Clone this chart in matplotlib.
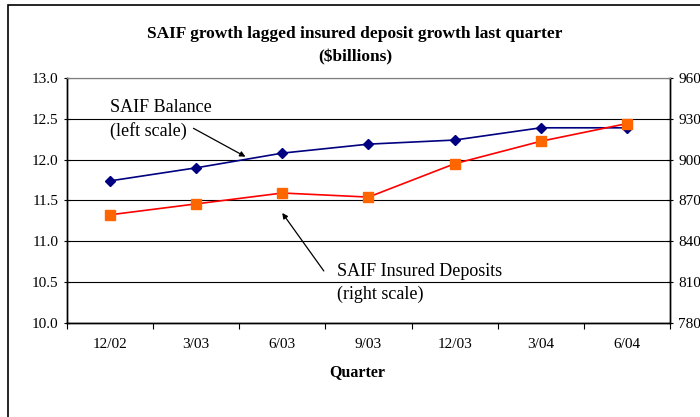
import matplotlib.pyplot as plt
from matplotlib.patches import Rectangle

plt.rcParams['font.family'] = ['Liberation Serif', 'DejaVu Serif']

quarters = ['12/02', '3/03', '6/03', '9/03', '12/03', '3/04', '6/04']
saif_balance = [11.74, 11.90, 12.08, 12.19, 12.24, 12.39, 12.39]       # left scale
insured_deposits = [859.5, 867.5, 875.5, 872.5, 897.0, 913.5, 926.5]   # right scale

left_ticks = [10.0, 10.5, 11.0, 11.5, 12.0, 12.5, 13.0]
right_ticks = [780, 810, 840, 870, 900, 930, 960]

fig = plt.figure(figsize=(7, 4.17), dpi=100)
ax = fig.add_axes([0.0957, 0.2254, 0.8614, 0.5876])
ax2 = ax.twinx()

x = list(range(len(quarters)))

ax.plot(x, saif_balance, color='#000080', lw=1.2, marker='D', ms=5.5,
        markerfacecolor='#000080', markeredgecolor='#000080', zorder=3)
ax2.plot(x, insured_deposits, color='#FF0000', lw=1.2, marker='s', ms=6.5,
         markerfacecolor='#FF6600', markeredgecolor='#FF6600', zorder=3)

ax.set_xlim(-0.5, len(quarters) - 0.5)
ax.set_ylim(10.0, 13.0)
ax2.set_ylim(780, 960)
ax.set_yticks(left_ticks)
ax.set_yticklabels(['%.1f' % v for v in left_ticks])
ax2.set_yticks(right_ticks)
ax2.set_yticklabels([str(v) for v in right_ticks])

# category labels centred, tick marks on the boundaries
ax.set_xticks(x)
ax.set_xticklabels(quarters)
ax.set_xticks([i - 0.5 for i in range(len(quarters) + 1)], minor=True)
ax.tick_params(axis='x', which='major', length=0, pad=11, labelsize=11)
ax.tick_params(axis='x', which='minor', length=4, direction='out', width=0.8)
ax.tick_params(axis='y', length=4, direction='inout', width=0.8, labelsize=11, pad=4)
ax2.tick_params(axis='y', length=4, direction='inout', width=0.8, labelsize=11, pad=4)

ax.yaxis.grid(True, color='black', lw=0.8)
ax.set_axisbelow(True)
for a in (ax, ax2):
    a.spines['top'].set_color('#808080')
    for s in ('left', 'right', 'bottom'):
        a.spines[s].set_linewidth(1.0)

fig.text(357 / 700, 1 - 372 / 417, 'Quarter', ha='center', va='center',
         fontsize=11.5, fontweight='bold')
fig.text(355 / 700, 0.919, 'SAIF growth lagged insured deposit growth last quarter',
         ha='center', va='center', fontsize=12.5, fontweight='bold')
fig.text(355 / 700, 0.862, '($billions)', ha='center', va='center',
         fontsize=12.5, fontweight='bold')

ax.text(0.0, 12.49, 'SAIF Balance\n(left scale)', ha='left', va='center',
        fontsize=13, linespacing=1.4)
ax.annotate('', xy=(1.60, 12.02), xytext=(0.94, 12.40),
            arrowprops=dict(arrowstyle='-|>', color='black', lw=0.9,
                            mutation_scale=8))
ax.text(2.63, 10.49, 'SAIF Insured Deposits\n(right scale)', ha='left',
        va='center', fontsize=13, linespacing=1.4)
ax.annotate('', xy=(1.98, 11.375), xytext=(2.5, 10.61),
            arrowprops=dict(arrowstyle='-|>', color='black', lw=0.9,
                            mutation_scale=8))

# outer chart frame (runs off the right and bottom edges)
fig.patches.append(Rectangle((8 / 700, -0.1), 1.2, 1.1 - 5 / 417,
                             transform=fig.transFigure, fill=False,
                             edgecolor='black', lw=1.2))

fig.savefig('out.png', dpi=100)
